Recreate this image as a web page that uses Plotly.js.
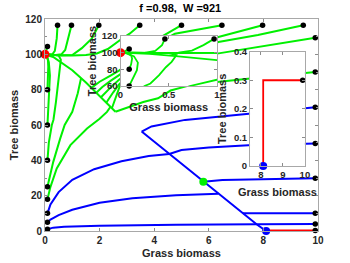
<!DOCTYPE html>
<html>
<head>
<meta charset="utf-8">
<script src="https://cdn.plot.ly/plotly-3.0.1.min.js"></script>
<style>html,body{margin:0;padding:0;background:#fff;}#chart{width:350px;height:263px;}</style>
</head>
<body>
<div id="chart"></div>
<script>
// ---- data: trajectories (grass biomass G, tree biomass T) ----
// forest-side slow path into the forest equilibrium
const trunkG = [2.58, 2.3, 2.0, 1.5, 1.0, 0.6, 0.3, 0];
const trunkT = [67.5, 71.8, 76.5, 84, 91, 95.5, 98.5, 100];
// green trajectories (end in forest)
const gL105G = [0.09, 0.06, 0.03, 0];            const gL105T = [104.5, 102.5, 100.8, 100];
const gL80G  = [0.09, 0.11, 0.12, 0.11, 0.06, 0]; const gL80T  = [80, 86, 93, 96.5, 99.3, 100];
const gL60G  = [0.09, 0.13, 0.17, 0.18, 0.14, 0.07, 0]; const gL60T = [60, 70, 79, 88, 95.5, 99, 100];
const gL40G  = [0.09, 0.14, 0.25, 0.31, 0.4, 0.47, 0.53, 0.58, 0.5, 0.3, 0];
const gL40T  = [40, 50, 60, 63, 73, 82.5, 89, 97, 99.3, 99.8, 100];
const gL25G  = [0.09, 0.3, 0.55, 0.72, 1.0, 1.2, 1.32]; const gL25T = [25, 39, 52, 60, 67.5, 78, 86.5];
const gL18G  = [0.09, 0.2, 0.43, 0.93, 1.54, 2.0, 2.27, 2.4]; const gL18T = [18, 25, 35.4, 48.6, 58, 63.5, 67.4, 70.3];
const gT1G = [0.46, 0.43, 0.36, 0.25, 0.12, 0];        const gT1T = [116.5, 109, 102, 99.6, 99.8, 100];
const gT2G = [0.97, 0.86, 0.74, 0.6, 0.4, 0.2, 0];     const gT2T = [116.5, 109, 102.5, 100, 99.6, 99.8, 100];
const gT3G = [1.97, 1.72, 1.35, 1.0, 0.6, 0.3, 0];     const gT3T = [116.5, 109, 103.5, 99.6, 99.3, 99.6, 100];
const gT4G = [3.47, 3.1, 2.74, 2.3, 1.9, 1.5, 1.0, 0.6, 0.3, 0];
const gT4T = [116.5, 111.7, 108, 103, 100.5, 99.6, 99.4, 99.3, 99.6, 100];
const gT5G = [5.0, 4.58, 4.2, 3.6, 3.1, 2.74, 2.4, 2.0, 1.7];
const gT5T = [116.5, 112.6, 109.5, 104, 97, 91, 88, 84.5, 81];
const gT6G = [6.48, 5.6, 4.76, 4.2, 3.6, 3.1, 2.74, 2.4, 2.1, 1.88];
const gT6T = [116.5, 114, 111.7, 107, 100, 93, 88.5, 85, 81.5, 78.3];
const gT7G = [7.97, 7.1, 6.35, 5.5, 4.5, 3.6, 2.74, 2.45, 2.2, 2.05];
const gT7T = [116.5, 113, 109.8, 105, 98, 92, 86, 82, 78, 75.7];
const gT8G = [9.46, 7.8, 6.35, 5.3, 4.3, 3.4, 2.74, 2.5, 2.25];
const gT8T = [116.5, 111, 107, 101, 94, 88, 83.5, 78.5, 72.7];
const gR109G = [9.9, 8, 6.3, 5.2, 4.2, 3.3, 2.74, 2.6, 2.45];
const gR109T = [109.4, 104.5, 100.4, 96, 91, 86.5, 82, 76, 69.5];
const gR90G = [9.9, 8.6, 7.52, 6.3, 5.2, 4.6, 4.14, 3.6, 3.1, 2.58];
const gR90T = [90, 88.2, 86.3, 84.3, 82, 79.5, 75.1, 73, 70.5, 67.5];
// grass-side slow path (through the saddle into the grass equilibrium)
const nullG = [3.54, 5.8, 7.75, 8.1];
const nullT = [56.3, 27.9, 3.8, 0];
// blue trajectories (end in grassland)
const bL1G = [0.09, 0.3, 0.7, 2, 4.8, 7.75];   const bL1T = [1, 1.9, 2.4, 3.0, 3.6, 3.8];
const bR4G = [9.9, 8.5, 7.75];                 const bR4T = [4, 3.9, 3.8];
const bL5G = [0.09, 0.2, 0.5, 1.0, 2.0, 3.2, 4.8, 6.35]; const bL5T = [5, 6.5, 9, 12, 16, 18.6, 20.3, 21.1];
const bR10G = [9.9, 7.25];                     const bR10T = [10, 10];
const bL10G = [0.09, 0.2, 0.5, 1.0, 1.8, 2.8, 3.8, 4.55]; const bL10T = [10, 15, 22, 29, 35, 39.5, 42.5, 43.6];
const bR30G = [9.9, 8.0, 6.5, 5.8];            const bR30T = [29.8, 29.3, 28.9, 27.9];
const bR50G = [9.9, 8.5, 7.45, 6, 5, 4.55];    const bR50T = [49.5, 49.2, 48.6, 47.2, 45.8, 43.6];
const bR70G = [9.9, 8.7, 7.52, 6.35, 5.13, 3.9, 3.54]; const bR70T = [70, 68.3, 66.7, 64.8, 62.9, 59.2, 56.3];
// red trajectory
const redG = [9.9, 8.1, 8.1];                  const redT = [0.3, 0.3, 0];
// initial points
const startG = [0.46, 0.97, 1.97, 3.47, 5.0, 6.48, 7.97, 9.46,
                9.9, 9.9, 9.9, 9.9, 9.9, 9.9, 9.9, 9.9,
                0.09, 0.09, 0.09, 0.09, 0.09, 0.09, 0.09, 0.09, 0.09];
const startT = [116.5, 116.5, 116.5, 116.5, 116.5, 116.5, 116.5, 116.5,
                109.4, 90, 70, 49.5, 29.8, 10, 4, 0.3,
                104.5, 80, 60, 40, 25, 18, 10, 5, 1];
// equilibria
const forestEq = [0, 100];
const saddleEq = [5.8, 27.9];
const grassEq = [8.1, 0];

// ---- drawing ----
const GREEN = '#00f000', BLUE = '#0000ff', RED = '#ff0000';
const greens = [[trunkG,trunkT],[gL105G,gL105T],[gL80G,gL80T],[gL60G,gL60T],[gL40G,gL40T],[gL25G,gL25T],[gL18G,gL18T],
  [gT1G,gT1T],[gT2G,gT2T],[gT3G,gT3T],[gT4G,gT4T],[gT5G,gT5T],[gT6G,gT6T],[gT7G,gT7T],[gT8G,gT8T],[gR109G,gR109T],[gR90G,gR90T]];
const blues = [[nullG,nullT],[bL1G,bL1T],[bR4G,bR4T],[bL5G,bL5T],[bR10G,bR10T],[bL10G,bL10T],[bR30G,bR30T],[bR50G,bR50T],[bR70G,bR70T]];

const traces = [];
function line(xs, ys, color, ax, w) {
  traces.push({x: xs, y: ys, type: 'scatter', mode: 'lines', xaxis: ax[0], yaxis: ax[1],
    line: {color: color, width: w}, hoverinfo: 'skip', showlegend: false});
}
function dots(xs, ys, color, size, ax, rng) {
  let X = [], Y = [];
  for (let i = 0; i < xs.length; i++) {
    if (!rng || (xs[i] >= rng[0] && xs[i] <= rng[1] && ys[i] >= rng[2] && ys[i] <= rng[3])) { X.push(xs[i]); Y.push(ys[i]); }
  }
  traces.push({x: X, y: Y, type: 'scatter', mode: 'markers', xaxis: ax[0], yaxis: ax[1], cliponaxis: false,
    marker: {color: color, size: size, line: {width: 0}}, hoverinfo: 'skip', showlegend: false});
}
const MAIN = ['x', 'y'], IN1 = ['x2', 'y2'], IN2 = ['x3', 'y3'];
const R1 = [0, 1, 60, 120], R2 = [7.5, 10, 0, 0.4];

greens.forEach(g => line(g[0], g[1], GREEN, MAIN, 2));
blues.forEach(b => line(b[0], b[1], BLUE, MAIN, 2));
line(redG, redT, RED, MAIN, 2);
dots(startG, startT, '#000', 5.5, MAIN);
dots([forestEq[0]], [forestEq[1]], RED, 9, MAIN);
dots([saddleEq[0]], [saddleEq[1]], GREEN, 8, MAIN);
dots([grassEq[0]], [grassEq[1]], BLUE, 8, MAIN);

greens.forEach(g => line(g[0], g[1], GREEN, IN1, 1.8));
dots(startG, startT, '#000', 5.5, IN1, R1);
dots([forestEq[0]], [forestEq[1]], RED, 9, IN1, R1);

line(redG, redT, RED, IN2, 1.8);
dots(startG, startT, '#000', 5.5, IN2, R2);
dots([grassEq[0]], [grassEq[1]], BLUE, 8, IN2, R2);

const FONT = 'Liberation Sans, Arial, Helvetica, sans-serif';
const TXT = '#262626', AXC = '#a8a8a8';
function axis(extra) {
  return Object.assign({
    showgrid: false, zeroline: false, ticks: 'inside', ticklen: 3, tickwidth: 1, tickcolor: '#8c8c8c',
    linecolor: AXC, linewidth: 1, mirror: 'ticks', showline: true, automargin: false,
    tickfont: {family: FONT, size: 10, color: TXT, weight: 'bold'}, fixedrange: true
  }, extra);
}
const titleFont = {family: FONT, size: 11, color: TXT, weight: 'bold'};
const inTick = {family: FONT, size: 9.5, color: TXT, weight: 'bold'};

const layout = {
  width: 350, height: 263,
  margin: {l: 45, r: 32, t: 19, b: 32, pad: 0},
  paper_bgcolor: '#fff', plot_bgcolor: '#fff',
  title: {text: 'f =0.98,\u00a0 W =921', font: {family: FONT, size: 11, color: '#000', weight: 'bold'},
          x: 0.515, xanchor: 'center', y: 0.968, yanchor: 'middle'},
  xaxis: axis({domain: [0, 1], range: [0, 10], tickvals: [0, 2, 4, 6, 8, 10], anchor: 'y',
               title: {text: 'Grass biomass', font: titleFont, standoff: 4}}),
  yaxis: axis({domain: [0, 1], range: [0, 120], tickvals: [0, 20, 40, 60, 80, 100, 120], anchor: 'x',
               minor: {dtick: 10, ticks: 'inside', ticklen: 2, tickcolor: '#8c8c8c'},
               title: {text: 'Tree biomass', font: titleFont, standoff: 4}}),
  xaxis2: axis({domain: [0.2766, 0.630], range: [0, 1], tickvals: [0, 0.5, 1], anchor: 'y2',
                tickfont: inTick, automargin: true,
                title: {text: 'Grass biomass', font: titleFont, standoff: 3}}),
  yaxis2: axis({domain: [0.684, 0.920], range: [60, 120], tickvals: [60, 80, 100, 120], anchor: 'x2',
                tickfont: inTick, automargin: true,
                title: {text: 'Tree biomass', font: titleFont, standoff: 2}}),
  xaxis3: axis({domain: [0.751, 0.952], range: [7.5, 10], tickvals: [8, 9, 10], anchor: 'y3',
                tickfont: inTick, automargin: true,
                title: {text: 'Grass biomass', font: titleFont, standoff: 8}}),
  yaxis3: axis({domain: [0.3066, 0.8458], range: [0, 0.4], tickvals: [0, 0.1, 0.2, 0.3, 0.4], anchor: 'x3',
                tickfont: inTick, automargin: true,
                title: {text: 'Tree biomass', font: titleFont, standoff: 5}})
};

Plotly.newPlot('chart', traces, layout, {staticPlot: true, displayModeBar: false});
</script>
</body>
</html>
